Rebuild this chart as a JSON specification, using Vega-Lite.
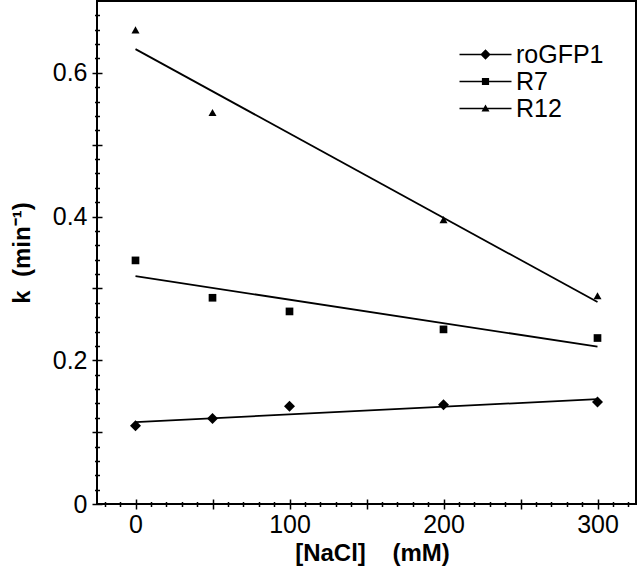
{
  "$schema": "https://vega.github.io/schema/vega-lite/v6.json",
  "width": 539,
  "height": 503,
  "autosize": {"type": "none"},
  "padding": {"left": 97, "top": 1, "right": 4, "bottom": 74},
  "background": "white",
  "config": {
    "view": {"stroke": "black", "strokeWidth": 2},
    "axis": {
      "grid": false,
      "domain": false,
      "tickColor": "black",
      "tickWidth": 1.5,
      "labelFont": "Liberation Sans",
      "labelFontSize": 25,
      "labelColor": "black",
      "titleFont": "Liberation Sans",
      "titleFontSize": 23,
      "titleFontWeight": "bold",
      "titleColor": "black"
    }
  },
  "datasets": {
    "fits": [
      {"series": "roGFP1", "nacl": 0, "k": 0.114},
      {"series": "roGFP1", "nacl": 300, "k": 0.146},
      {"series": "R7", "nacl": 0, "k": 0.317},
      {"series": "R7", "nacl": 300, "k": 0.219},
      {"series": "R12", "nacl": 0, "k": 0.633},
      {"series": "R12", "nacl": 300, "k": 0.281}
    ],
    "obs": [
      {"series": "roGFP1", "nacl": 0, "k": 0.109},
      {"series": "roGFP1", "nacl": 50, "k": 0.119},
      {"series": "roGFP1", "nacl": 100, "k": 0.136},
      {"series": "roGFP1", "nacl": 200, "k": 0.138},
      {"series": "roGFP1", "nacl": 300, "k": 0.142},
      {"series": "R7", "nacl": 0, "k": 0.339},
      {"series": "R7", "nacl": 50, "k": 0.287},
      {"series": "R7", "nacl": 100, "k": 0.268},
      {"series": "R7", "nacl": 200, "k": 0.243},
      {"series": "R7", "nacl": 300, "k": 0.231},
      {"series": "R12", "nacl": 0, "k": 0.659},
      {"series": "R12", "nacl": 50, "k": 0.544},
      {"series": "R12", "nacl": 200, "k": 0.395},
      {"series": "R12", "nacl": 300, "k": 0.289}
    ]
  },
  "layer": [
    {
      "data": {"name": "fits"},
      "mark": {"type": "line", "color": "black", "strokeWidth": 1.8},
      "encoding": {
        "x": {
          "field": "nacl",
          "type": "quantitative",
          "scale": {"domain": [-25, 325], "nice": false, "zero": false},
          "axis": {
            "orient": "bottom",
            "values": [0, 50, 100, 150, 200, 250, 300],
            "offset": -5,
            "tickSize": 10,
            "labelPadding": 3,
            "labelExpr": "datum.value % 100 === 0 ? datum.label : ''",
            "title": "[NaCl]\u00a0\u00a0\u00a0\u00a0(mM)",
            "titleFontSize": 24,
            "titlePadding": 4,
            "titleX": 275
          }
        },
        "y": {
          "field": "k",
          "type": "quantitative",
          "scale": {"domain": [0, 0.7], "nice": false, "zero": false},
          "axis": {
            "orient": "left",
            "values": [0, 0.1, 0.2, 0.3, 0.4, 0.5, 0.6],
            "offset": -5,
            "tickSize": 10,
            "labelPadding": 5,
            "labelExpr": "abs(datum.value * 5 - round(datum.value * 5)) < 0.000001 ? format(datum.value, '~g') : ''",
            "title": "k\u00a0\u00a0(min\u207b\u00b9)",
            "titleFontSize": 24,
            "titlePadding": 18
          }
        },
        "detail": {"field": "series", "type": "nominal"}
      }
    },
    {
      "data": {"name": "obs"},
      "mark": {"type": "point", "filled": true, "color": "black", "opacity": 1, "size": 64},
      "encoding": {
        "x": {
          "field": "nacl",
          "type": "quantitative",
          "axis": {
            "orient": "bottom",
            "values": [-20, -10, 10, 20, 30, 40, 60, 70, 80, 90, 110, 120, 130, 140, 160, 170, 180, 190, 210, 220, 230, 240, 260, 270, 280, 290, 310, 320],
            "offset": -2.5,
            "tickSize": 5,
            "labels": false,
            "title": null
          }
        },
        "y": {
          "field": "k",
          "type": "quantitative",
          "axis": {
            "orient": "left",
            "values": [0.02, 0.04, 0.06, 0.08, 0.12, 0.14, 0.16, 0.18, 0.22, 0.24, 0.26, 0.28, 0.32, 0.34, 0.36, 0.38, 0.42, 0.44, 0.46, 0.48, 0.52, 0.54, 0.56, 0.58, 0.62, 0.64, 0.66, 0.68],
            "offset": -2.5,
            "tickSize": 5,
            "labels": false,
            "title": null
          }
        },
        "shape": {
          "field": "series",
          "type": "nominal",
          "scale": {
            "domain": ["roGFP1", "R7", "R12"],
            "range": ["M0,-1.375L1.375,0L0,1.375L-1.375,0Z", "M-0.96,-0.96H0.96V0.96H-0.96Z", "M0,-1.05L1.0,0.75H-1.0Z"]
          },
          "legend": null
        }
      }
    },
    {
      "data": {"name": "fits"},
      "mark": {"type": "point", "filled": true, "color": "black", "opacity": 0},
      "encoding": {
        "x": {"field": "nacl", "type": "quantitative", "axis": null},
        "y": {"field": "k", "type": "quantitative", "axis": null},
        "shape": {
          "field": "series",
          "type": "nominal",
          "scale": {
            "domain": ["roGFP1", "R7", "R12"],
            "range": ["M-3.25,-0.1H3.25V0.1H-3.25ZM0,-0.65L0.65,0L0,0.65L-0.65,0Z", "M-3.25,-0.1H3.25V0.1H-3.25ZM-0.45,-0.45H0.45V0.45H-0.45Z", "M-3.25,-0.1H3.25V0.1H-3.25ZM0,-0.5L0.5,0.38H-0.5Z"]
          },
          "legend": {
            "orient": "none",
            "legendX": 376,
            "legendY": 41,
            "title": null,
            "padding": 0,
            "labelFont": "Liberation Sans",
            "labelFontSize": 25,
            "labelColor": "black",
            "labelOffset": 18,
            "rowPadding": 1,
            "symbolSize": 256,
            "symbolOpacity": 1,
            "symbolFillColor": "black"
          }
        }
      }
    }
  ],
  "resolve": {
    "axis": {"x": "independent", "y": "independent"},
    "scale": {"shape": "independent"},
    "legend": {"shape": "independent"}
  }
}
